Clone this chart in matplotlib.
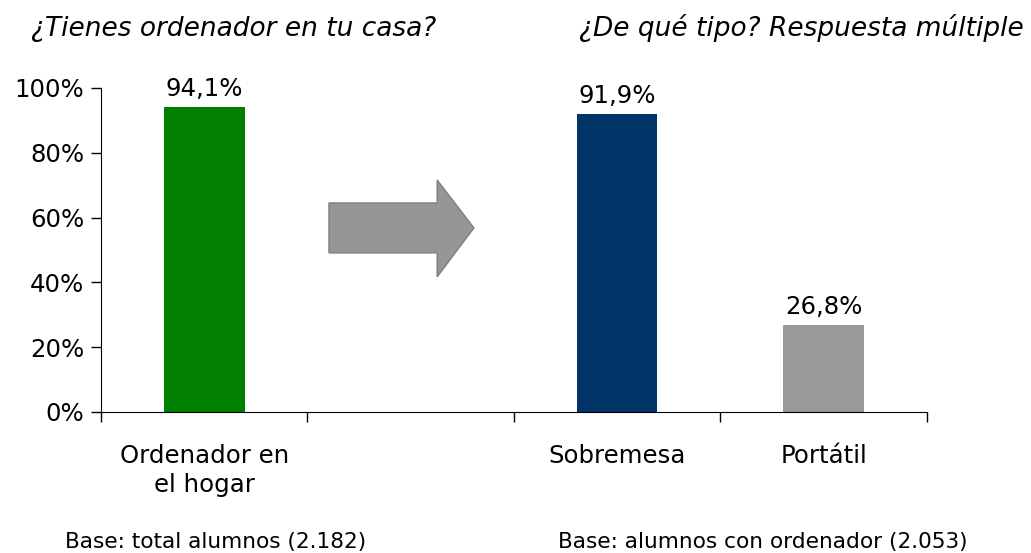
import matplotlib
matplotlib.use("Agg")
import matplotlib.pyplot as plt
from matplotlib.patches import Polygon
import numpy as np

# data
categories = ["Ordenador en\nel hogar", "", "Sobremesa", "Portátil"]
values = [94.1, None, 91.9, 26.8]
labels = ["94,1%", None, "91,9%", "26,8%"]
colors = ["#007f00", None, "#003366", "#999999"]
y_ticks = [0, 20, 40, 60, 80, 100]

plt.rcParams["font.family"] = ["DejaVu Sans"]
fs = 17.6

fig = plt.figure(figsize=(10.31, 5.53), dpi=100)
ax = fig.add_axes([0.098, 0.255, 0.801, 0.586])

pos = np.arange(len(categories)) + 0.5
for x, v, lab, c in zip(pos, values, labels, colors):
    if v is None:
        continue
    ax.bar(x, v, width=0.39, color=c)
    ax.text(x, v + 2.0, lab, ha="center", va="bottom", fontsize=fs)

ax.set_xlim(0, len(categories))
ax.set_ylim(0, 100)
ax.set_yticks(y_ticks)
ax.set_yticklabels([f"{t}%" for t in y_ticks], fontsize=fs)
ax.set_xticks(np.arange(len(categories) + 1))
ax.set_xticklabels([])
ax.set_xticks(pos, minor=True)
ax.set_xticklabels(categories, minor=True, fontsize=fs, linespacing=1.25)
ax.tick_params(axis="x", which="minor", length=0, pad=23)
ax.tick_params(axis="both", which="major", length=7, width=1, direction="out")
ax.tick_params(axis="y", pad=5)
for s in ["top", "right"]:
    ax.spines[s].set_visible(False)

# grey arrow between the two panels (axes fraction)
arrow = [(0.276, 0.645), (0.407, 0.645), (0.407, 0.716), (0.4515, 0.568),
         (0.407, 0.417), (0.407, 0.491), (0.276, 0.491)]
ax.add_patch(Polygon(arrow, closed=True, transform=ax.transAxes,
                     facecolor="#969696", edgecolor="#7f7f7f", lw=1, clip_on=False))

fig.text(31 / 1031, 1 - 36 / 553, "¿Tienes ordenador en tu casa?", style="italic",
         fontsize=19, va="baseline")
fig.text(579 / 1031, 1 - 36 / 553, "¿De qué tipo? Respuesta múltiple", style="italic",
         fontsize=19, va="baseline")
fig.text(65 / 1031, 1 - 548 / 553, "Base: total alumnos (2.182)", fontsize=15.6,
         va="baseline")
fig.text(558 / 1031, 1 - 548 / 553, "Base: alumnos con ordenador (2.053)", fontsize=15.6,
         va="baseline")

fig.savefig("out.png", dpi=100)
